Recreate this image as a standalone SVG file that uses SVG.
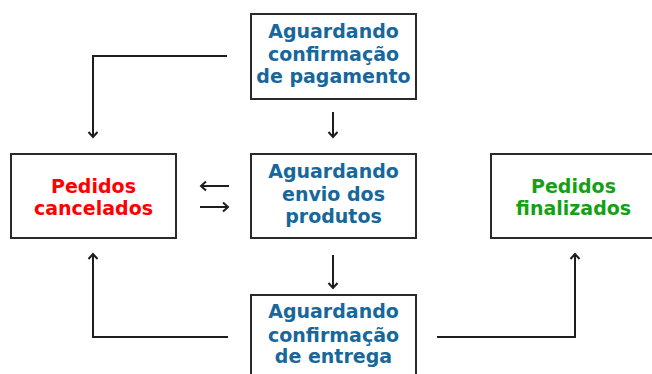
<svg xmlns="http://www.w3.org/2000/svg" width="652" height="374" viewBox="0 0 652 374">
  <style>
    .box { fill: #ffffff; stroke: #2a2a2a; stroke-width: 2; }
    .t { font-family: "DejaVu Sans", Verdana, sans-serif; font-weight: bold; font-size: 19px; text-anchor: middle; }
    .blue { fill: #17679b; }
    .red { fill: #ff0000; }
    .green { fill: #16a016; }
    .conn { fill: none; stroke: #1e1e1e; stroke-width: 2; }
  </style>
  <defs>
    <marker id="arr" markerUnits="userSpaceOnUse" markerWidth="14" markerHeight="14" viewBox="-8 -7 10 14" refX="0" refY="0" orient="auto">
      <path d="M-5,-4.5 L0,0 L-5,4.5" fill="none" stroke="#1e1e1e" stroke-width="2"/>
    </marker>
  </defs>
  <rect width="652" height="374" fill="#ffffff"/>

  <g id="connectors">
    <polyline class="conn" points="227,56 93,56 93,137" marker-end="url(#arr)"/>
    <line class="conn" x1="333" y1="112" x2="333" y2="137" marker-end="url(#arr)"/>
    <line class="conn" x1="333" y1="255" x2="333" y2="288" marker-end="url(#arr)"/>
    <line class="conn" x1="229" y1="186" x2="201" y2="186" marker-end="url(#arr)"/>
    <line class="conn" x1="200" y1="207" x2="228" y2="207" marker-end="url(#arr)"/>
    <polyline class="conn" points="228,337 93,337 93,254" marker-end="url(#arr)"/>
    <polyline class="conn" points="437,337 575,337 575,254" marker-end="url(#arr)"/>
  </g>

  <g id="aguardando-pagamento">
    <rect class="box" x="251" y="14" width="165" height="85"/>
    <text class="t blue" x="333.5" y="38">Aguardando</text>
    <text class="t blue" x="333.5" y="61">confirmação</text>
    <text class="t blue" x="333.5" y="83">de pagamento</text>
  </g>

  <g id="pedidos-cancelados">
    <rect class="box" x="11" y="154" width="165" height="84"/>
    <text class="t red" x="93.5" y="193">Pedidos</text>
    <text class="t red" x="93.5" y="215">cancelados</text>
  </g>

  <g id="aguardando-envio">
    <rect class="box" x="251" y="154" width="165" height="84"/>
    <text class="t blue" x="333.5" y="178">Aguardando</text>
    <text class="t blue" x="333.5" y="201">envio dos</text>
    <text class="t blue" x="333.5" y="223">produtos</text>
  </g>

  <g id="pedidos-finalizados">
    <rect class="box" x="491" y="154" width="165" height="84"/>
    <text class="t green" x="573.5" y="193">Pedidos</text>
    <text class="t green" x="573.5" y="215">finalizados</text>
  </g>

  <g id="aguardando-entrega">
    <rect class="box" x="251" y="295" width="165" height="90"/>
    <text class="t blue" x="333.5" y="318">Aguardando</text>
    <text class="t blue" x="333.5" y="342">confirmação</text>
    <text class="t blue" x="333.5" y="363">de entrega</text>
  </g>
</svg>
